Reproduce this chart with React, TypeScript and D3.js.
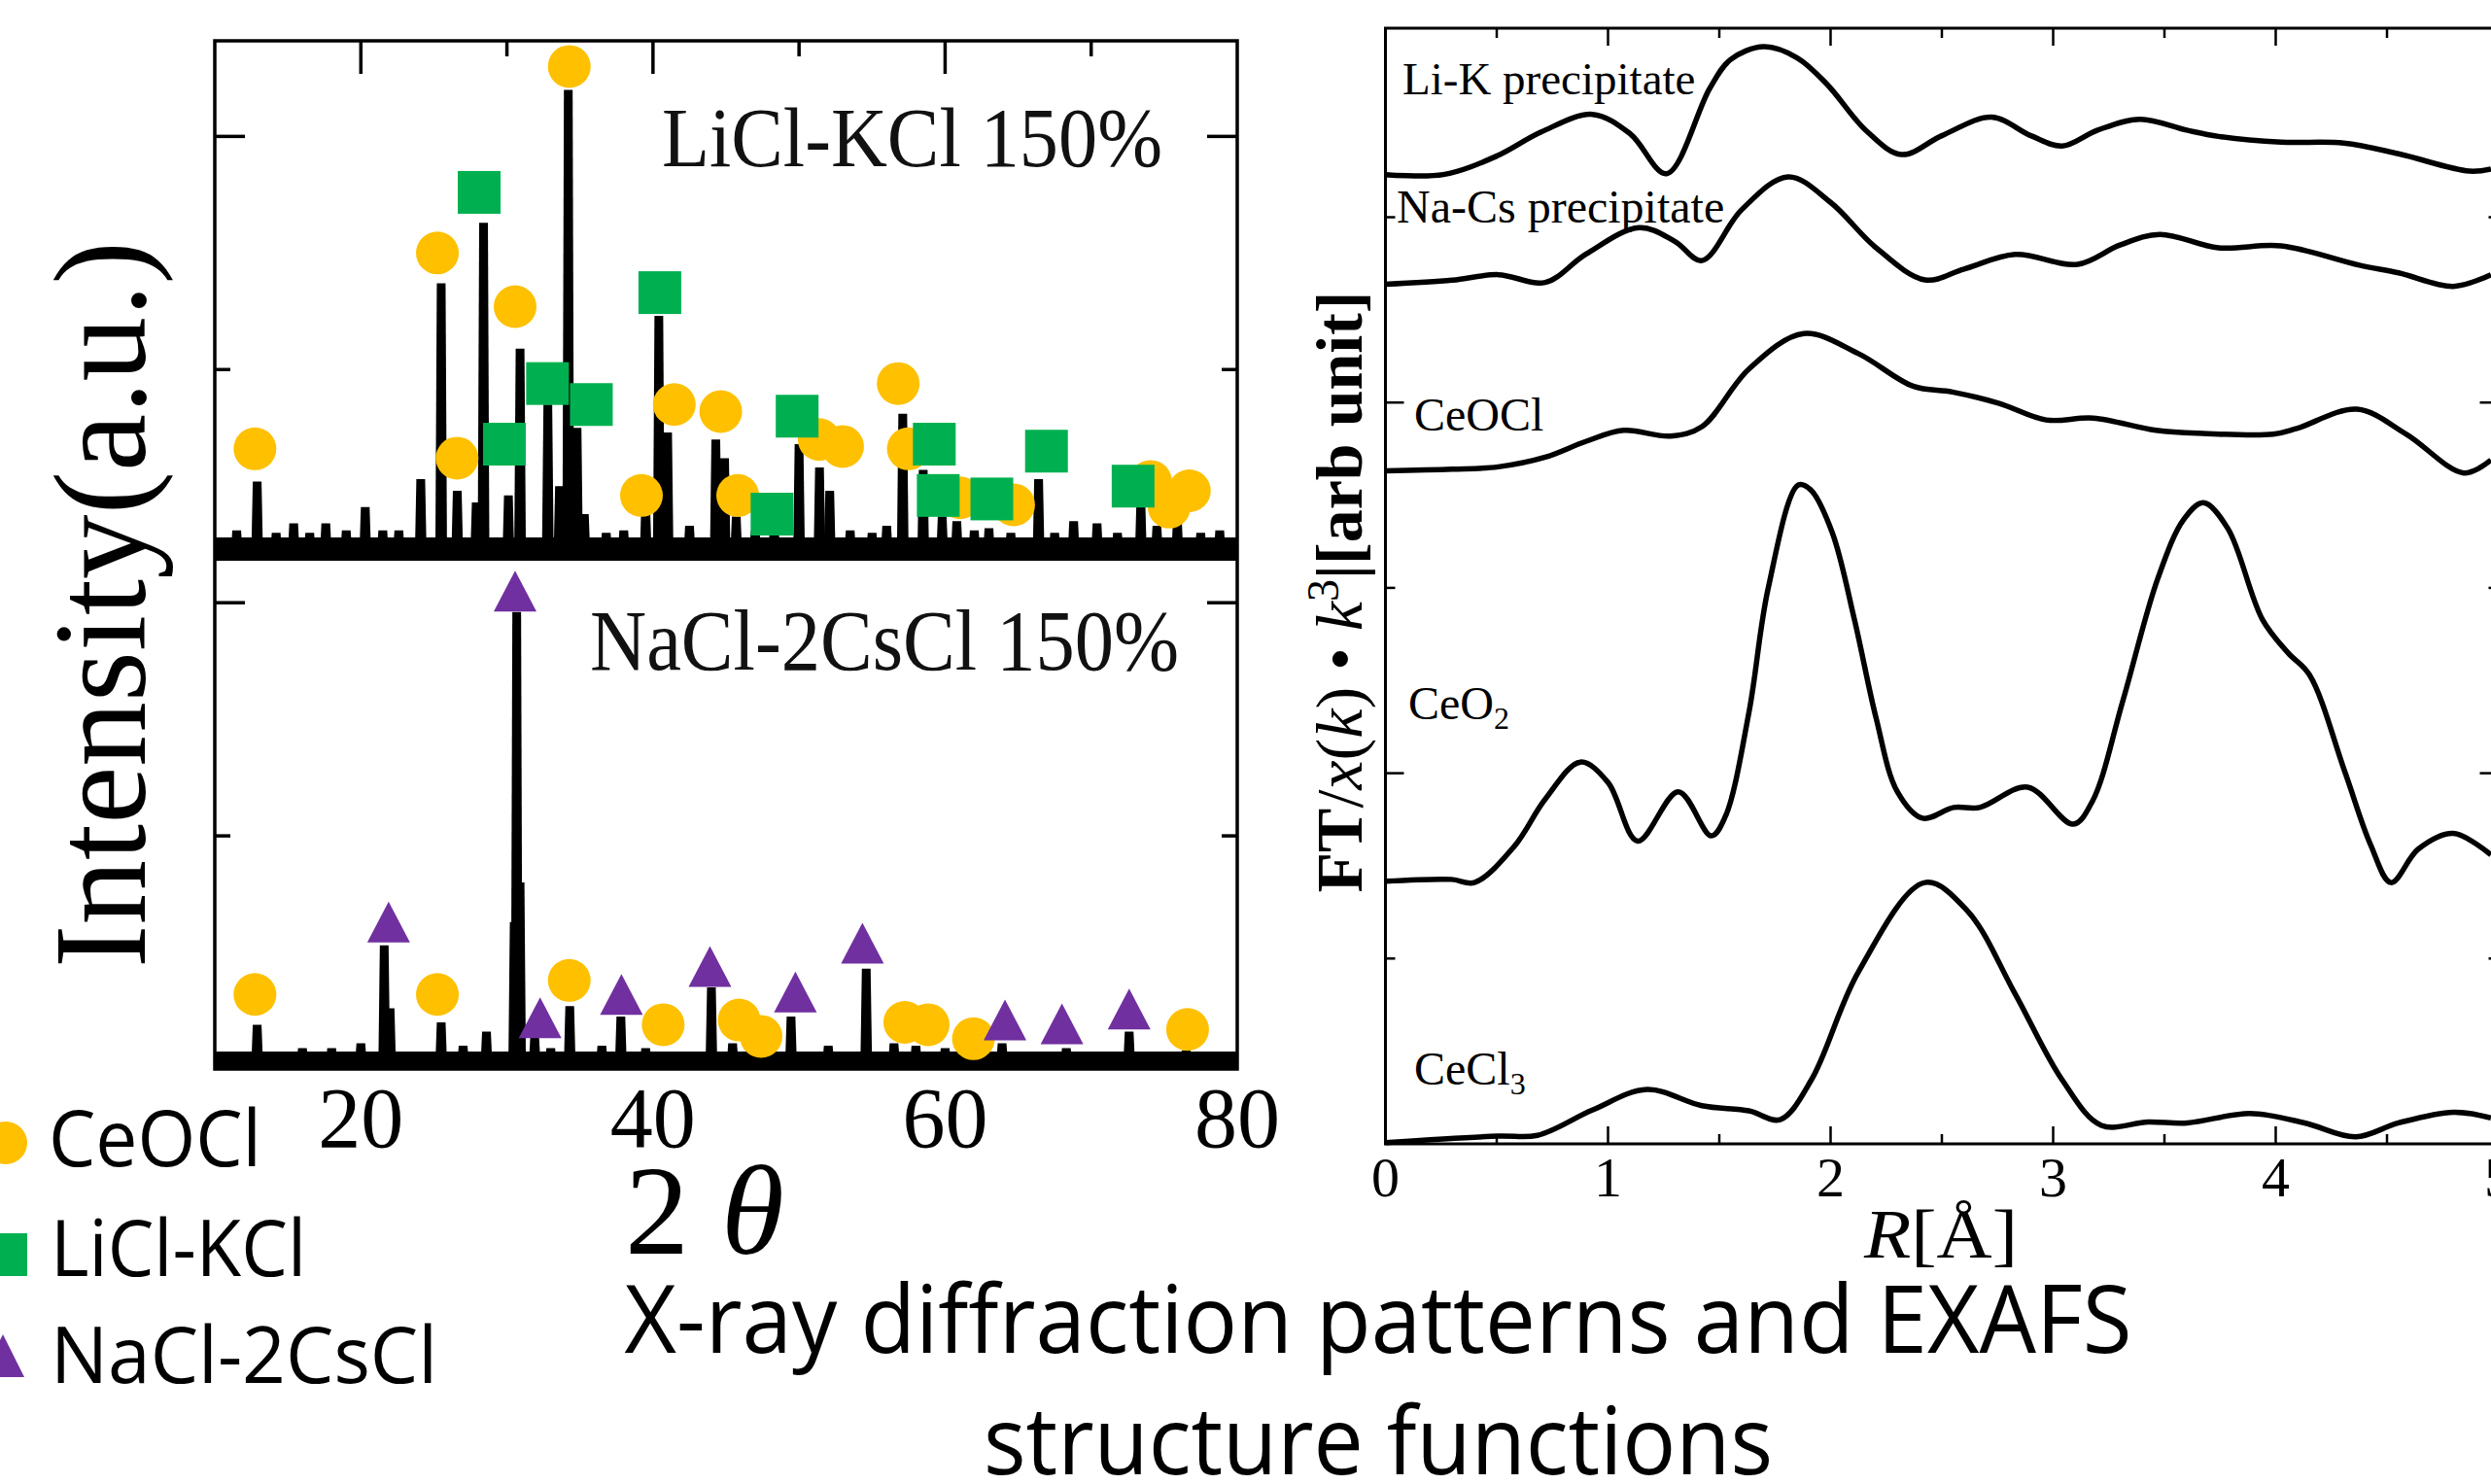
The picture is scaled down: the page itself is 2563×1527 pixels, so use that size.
import React, { useEffect } from 'react';
import * as d3 from 'd3';

const W = 2563;
const H = 1527;

// ---------------- XRD (left) ----------------
const xrdTickMajor = [20, 40, 60];
const xrdTickMinor = [30, 50, 70];
const xrdTickLabels = [20, 40, 60, 80];
const xrdYTickMajor = [200, 400];
const xrdYTickMinor = [100, 300];
const upperBaseline = 223;
const lowerBaseline = 4;

// [2theta, intensity above baseline]
const upperPeaks: [number, number][] = [
  [11.5, 8], [12.9, 29], [14.2, 7], [15.4, 11], [16.5, 7], [17.6, 11], [19.0, 8], [20.3, 18], [21.5, 8],
  [22.6, 8], [24.1, 30], [25.5, 114], [26.6, 25], [27.9, 20], [28.4, 140], [30.1, 23], [30.9, 86],
  [32.8, 62], [33.6, 27], [34.2, 197], [34.8, 52], [35.3, 15], [36.8, 7], [38.0, 8], [39.5, 19],
  [40.4, 100], [41.0, 50], [42.5, 10], [44.3, 47], [44.9, 39], [45.7, 14], [47.0, 8], [48.3, 10],
  [50.0, 45], [51.4, 35], [52.1, 25], [53.5, 8], [55.0, 7], [56.0, 10], [57.1, 58], [58.5, 34],
  [59.8, 14], [60.8, 12], [62.0, 8], [63.0, 9], [64.5, 7], [66.4, 30], [67.5, 7], [68.8, 12],
  [70.4, 11], [71.8, 7], [73.4, 21], [74.5, 10], [75.9, 13], [77.5, 7], [78.8, 8],
];
const lowerPeaks: [number, number][] = [
  [12.9, 15], [16.0, 5], [18.0, 5], [20.0, 7], [21.6, 49], [22.0, 22], [25.5, 16], [27.0, 6],
  [28.6, 12], [30.5, 59], [30.67, 192], [30.9, 76], [31.9, 10], [33.0, 5], [34.3, 23], [36.5, 6],
  [37.8, 18.5], [39.5, 5], [44.0, 31], [45.45, 7], [47.0, 5], [49.45, 18.5], [52.0, 6], [54.6, 39],
  [56.5, 7], [58.0, 6], [60.0, 5], [63.9, 7], [68.3, 5], [72.6, 12], [76.5, 4],
];
// marker centres [2theta, intensity above baseline]
const upperCeOCl: [number, number][] = [
  [12.75, 43], [25.24, 127], [26.59, 39], [30.56, 104], [34.27, 207], [39.21, 23], [41.46, 62],
  [44.64, 59], [45.8, 23], [51.38, 47], [52.98, 44], [56.79, 71], [57.48, 43], [61.03, 22],
  [64.69, 19], [74.07, 29], [75.34, 18], [76.72, 25],
];
const upperLiClKCl: [number, number][] = [
  [28.1, 153], [29.83, 45], [32.78, 71], [35.78, 62], [40.47, 110], [48.15, 15], [49.87, 57],
  [59.26, 45], [59.53, 23], [63.2, 21.5], [66.94, 42], [72.87, 27],
];
const lowerCeOCl: [number, number][] = [
  [12.75, 28], [25.24, 28], [34.27, 34], [40.7, 15], [45.9, 17], [47.4, 10], [57.24, 16],
  [58.84, 15], [61.94, 9], [76.6, 13],
];
const lowerNaCl2CsCl: [number, number][] = [
  [21.9, 59], [30.56, 201], [32.27, 18], [37.84, 28], [43.9, 40], [49.75, 29], [54.34, 50],
  [64.1, 17], [68.0, 15.4], [72.6, 21.7],
];
const legendLabels = ['CeOCl', 'LiCl-KCl', 'NaCl-2CsCl'];
const COLOR_CEOCL = '#FFC000';
const COLOR_LICL = '#00B050';
const COLOR_NACL = '#7030A0';

// ---------------- EXAFS (right) ----------------
const exafsXTicks = [0, 1, 2, 3, 4, 5];
const exafsXMinor = [0.5, 1.5, 2.5, 3.5, 4.5];
const exafsYTicks = [1, 2, 3, 4, 5];

const liKPrecipitate: [number, number][] = [
  [0, 5.23], [0.26, 5.23], [0.5, 5.33], [0.7, 5.46], [0.93, 5.555], [1.1, 5.45], [1.263, 5.235],
  [1.457, 5.695], [1.55, 5.85], [1.7, 5.92], [1.85, 5.86], [1.985, 5.716], [2.16, 5.467],
  [2.319, 5.338], [2.5, 5.44], [2.723, 5.54], [2.9, 5.44], [3.04, 5.384], [3.2, 5.47],
  [3.391, 5.529], [3.6, 5.47], [3.743, 5.436], [4.024, 5.405], [4.306, 5.4], [4.552, 5.342],
  [4.869, 5.249], [4.967, 5.26],
];
const naCsPrecipitate: [number, number][] = [
  [0, 4.638], [0.3, 4.66], [0.507, 4.69], [0.718, 4.648], [0.9, 4.8], [1.14, 4.944], [1.3, 4.87],
  [1.422, 4.766], [1.6, 5.04], [1.809, 5.218], [2.0, 5.08], [2.2, 4.84], [2.424, 4.662],
  [2.6, 4.72], [2.829, 4.799], [3.11, 4.746], [3.3, 4.85], [3.479, 4.907], [3.743, 4.835],
  [4.024, 4.845], [4.376, 4.741], [4.552, 4.7], [4.798, 4.627], [4.967, 4.69],
];
const ceOClCurve: [number, number][] = [
  [0, 3.632], [0.3, 3.64], [0.507, 3.653], [0.718, 3.705], [0.9, 3.79], [1.07, 3.85],
  [1.281, 3.819], [1.422, 3.87], [1.633, 4.181], [1.879, 4.372], [2.125, 4.264], [2.371, 4.088],
  [2.547, 4.057], [2.758, 3.995], [2.969, 3.906], [3.18, 3.916], [3.462, 3.85], [3.673, 3.833],
  [3.989, 3.829], [4.095, 3.86], [4.365, 3.964], [4.587, 3.829], [4.845, 3.62], [4.967, 3.69],
];
const ceO2Curve: [number, number][] = [
  [0, 1.417], [0.296, 1.427], [0.4, 1.41], [0.578, 1.604], [0.718, 1.86], [0.876, 2.06],
  [1.0, 1.95], [1.133, 1.634], [1.316, 1.9], [1.464, 1.662], [1.527, 1.766], [1.633, 2.327],
  [1.72, 3.0], [1.855, 3.555], [1.91, 3.53], [2.007, 3.3], [2.107, 2.83], [2.204, 2.3],
  [2.3, 1.9], [2.413, 1.757], [2.553, 1.815], [2.67, 1.815], [2.885, 1.925], [3.09, 1.725],
  [3.177, 1.85], [3.313, 2.39], [3.47, 3.05], [3.587, 3.37], [3.675, 3.46], [3.785, 3.32],
  [3.94, 2.83], [4.055, 2.65], [4.152, 2.53], [4.31, 2.01], [4.426, 1.615], [4.518, 1.41],
  [4.64, 1.59], [4.797, 1.675], [4.967, 1.56],
];
const ceCl3Curve: [number, number][] = [
  [0, 0.007], [0.507, 0.042], [0.683, 0.046], [0.929, 0.182], [1.175, 0.294], [1.422, 0.206],
  [1.633, 0.178], [1.773, 0.131], [1.914, 0.346], [2.125, 0.928], [2.424, 1.41], [2.617, 1.254],
  [2.829, 0.81], [3.04, 0.346], [3.216, 0.1], [3.427, 0.118], [3.603, 0.113], [3.884, 0.164],
  [4.13, 0.113], [4.359, 0.038], [4.552, 0.113], [4.798, 0.171], [4.967, 0.14],
];

const serif = '"Liberation Serif", "Times New Roman", serif';
const sans = '"Open Sans", "Noto Sans", sans-serif';

export default function App() {
  useEffect(() => {
    document.body.style.margin = '0';
    document.body.style.overflow = 'hidden';
  }, []);

  const xX = d3.scaleLinear().domain([10, 80]).range([221, 1273]);
  const xY = d3.scaleLinear().domain([0, 441]).range([1100, 42]);
  const eX = d3.scaleLinear().domain([0, 5]).range([1425.5, 2570.5]);
  const eY = d3.scaleLinear().domain([0, 6.02]).range([1177, 29]);

  const curve = d3
    .line<[number, number]>()
    .x((d) => eX(d[0]))
    .y((d) => eY(d[1]))
    .curve(d3.curveCatmullRom.alpha(0.5));

  const peakPath = (p: [number, number], base: number) => {
    const x = xX(p[0]);
    const y0 = xY(base);
    const y1 = xY(base + p[1]);
    return `M${x - 6},${y0 + 4}L${x - 4.5},${y1}L${x + 4.5},${y1}L${x + 6},${y0 + 4}Z`;
  };

  const circles = (data: [number, number][], base: number, key: string) =>
    data.map((d, i) => (
      <circle key={key + i} cx={xX(d[0])} cy={xY(base + d[1])} r={22} fill={COLOR_CEOCL} />
    ));
  const squares = (data: [number, number][], base: number, key: string) =>
    data.map((d, i) => (
      <rect key={key + i} x={xX(d[0]) - 22} y={xY(base + d[1]) - 22} width={44} height={44} fill={COLOR_LICL} />
    ));
  const triangles = (data: [number, number][], base: number, key: string) =>
    data.map((d, i) => {
      const cx = xX(d[0]);
      const cy = xY(base + d[1]);
      return <path key={key + i} d={`M${cx},${cy - 21}L${cx + 22},${cy + 21}L${cx - 22},${cy + 21}Z`} fill={COLOR_NACL} />;
    });

  const exafsCurves = [liKPrecipitate, naCsPrecipitate, ceOClCurve, ceO2Curve, ceCl3Curve];

  return (
    <svg
      width={W}
      height={H}
      viewBox={`0 0 ${W} ${H}`}
      style={{ position: 'absolute', left: 0, top: 0, background: '#fff' }}
    >
      <rect x={0} y={0} width={W} height={H} fill="#fff" />

      {/* ================= XRD ================= */}
      <line x1={xX(10)} x2={xX(80)} y1={xY(upperBaseline)} y2={xY(upperBaseline)} stroke="#000" strokeWidth={24} />
      <line x1={xX(10)} x2={xX(80)} y1={xY(lowerBaseline)} y2={xY(lowerBaseline)} stroke="#000" strokeWidth={17} />
      {upperPeaks.map((p, i) => (
        <path key={'up' + i} d={peakPath(p, upperBaseline)} fill="#000" />
      ))}
      {lowerPeaks.map((p, i) => (
        <path key={'lp' + i} d={peakPath(p, lowerBaseline)} fill="#000" />
      ))}
      <rect x={xX(10)} y={xY(441)} width={xX(80) - xX(10)} height={xY(0) - xY(441)} fill="none" stroke="#000" strokeWidth={3.5} />
      {xrdTickMajor.map((t) => (
        <line key={'tM' + t} x1={xX(t)} x2={xX(t)} y1={xY(441)} y2={xY(441) + 34} stroke="#000" strokeWidth={3.5} />
      ))}
      {xrdTickMinor.map((t) => (
        <line key={'tm' + t} x1={xX(t)} x2={xX(t)} y1={xY(441)} y2={xY(441) + 16} stroke="#000" strokeWidth={3.5} />
      ))}
      {xrdYTickMajor.map((t) => (
        <g key={'yM' + t}>
          <line x1={xX(10)} x2={xX(10) + 31} y1={xY(t)} y2={xY(t)} stroke="#000" strokeWidth={3.5} />
          <line x1={xX(80)} x2={xX(80) - 31} y1={xY(t)} y2={xY(t)} stroke="#000" strokeWidth={3.5} />
        </g>
      ))}
      {xrdYTickMinor.map((t) => (
        <g key={'ym' + t}>
          <line x1={xX(10)} x2={xX(10) + 16} y1={xY(t)} y2={xY(t)} stroke="#000" strokeWidth={3.5} />
          <line x1={xX(80)} x2={xX(80) - 16} y1={xY(t)} y2={xY(t)} stroke="#000" strokeWidth={3.5} />
        </g>
      ))}
      {circles(upperCeOCl, upperBaseline, 'uc')}
      {squares(upperLiClKCl, upperBaseline, 'us')}
      {circles(lowerCeOCl, lowerBaseline, 'lc')}
      {triangles(lowerNaCl2CsCl, lowerBaseline, 'lt')}

      <text x={681} y={171} fontFamily={serif} fontSize={86} textLength={515} lengthAdjust="spacingAndGlyphs" fill="#111">
        LiCl-KCl 150%
      </text>
      <text x={607} y={689} fontFamily={serif} fontSize={88} textLength={606} lengthAdjust="spacingAndGlyphs" fill="#111">
        NaCl-2CsCl 150%
      </text>

      {xrdTickLabels.map((t) => (
        <text key={'xl' + t} x={xX(t)} y={1180} textAnchor="middle" fontFamily={serif} fontSize={88} fill="#000">
          {t}
        </text>
      ))}
      <text x={643} y={1290} fontFamily={serif} fontSize={132} fill="#000">
        2 <tspan fontStyle="italic">θ</tspan>
      </text>
      <text
        transform="translate(149,622) rotate(-90)"
        textAnchor="middle"
        fontFamily={serif}
        fontSize={135}
        textLength={748}
        lengthAdjust="spacingAndGlyphs"
        fill="#000"
      >
        Intensity(a.u.)
      </text>

      {/* legend */}
      <circle cx={6} cy={1176} r={22} fill={COLOR_CEOCL} />
      <rect x={-16} y={1269} width={44} height={44} fill={COLOR_LICL} />
      <path d="M3,1373L25,1417L-19,1417Z" fill={COLOR_NACL} />
      <text x={50} y={1200} fontFamily={sans} fontSize={81} textLength={219} lengthAdjust="spacingAndGlyphs">
        {legendLabels[0]}
      </text>
      <text x={52} y={1313} fontFamily={sans} fontSize={81} textLength={263} lengthAdjust="spacingAndGlyphs">
        {legendLabels[1]}
      </text>
      <text x={52} y={1423} fontFamily={sans} fontSize={81} textLength={398} lengthAdjust="spacingAndGlyphs">
        {legendLabels[2]}
      </text>

      {/* ================= EXAFS ================= */}
      <rect x={eX(0)} y={eY(6.02)} width={eX(5) - eX(0)} height={eY(0) - eY(6.02)} fill="none" stroke="#000" strokeWidth={3} />
      {exafsXTicks.map((t) => (
        <g key={'ex' + t}>
          <line x1={eX(t)} x2={eX(t)} y1={eY(0)} y2={eY(0) - 18} stroke="#000" strokeWidth={2.5} />
          <line x1={eX(t)} x2={eX(t)} y1={eY(6.02)} y2={eY(6.02) + 18} stroke="#000" strokeWidth={2.5} />
          <text x={eX(t)} y={1231} textAnchor="middle" fontFamily={serif} fontSize={58} fill="#000">
            {t}
          </text>
        </g>
      ))}
      {exafsXMinor.map((t) => (
        <g key={'exm' + t}>
          <line x1={eX(t)} x2={eX(t)} y1={eY(0)} y2={eY(0) - 10} stroke="#000" strokeWidth={2.5} />
          <line x1={eX(t)} x2={eX(t)} y1={eY(6.02)} y2={eY(6.02) + 10} stroke="#000" strokeWidth={2.5} />
        </g>
      ))}
      {exafsYTicks.map((t) => {
        const len = t % 2 === 0 ? 19 : 10;
        return (
          <g key={'ey' + t}>
            <line x1={eX(0)} x2={eX(0) + len} y1={eY(t)} y2={eY(t)} stroke="#000" strokeWidth={2.5} />
            <line x1={eX(5)} x2={eX(5) - len} y1={eY(t)} y2={eY(t)} stroke="#000" strokeWidth={2.5} />
          </g>
        );
      })}
      {exafsCurves.map((c, i) => (
        <path key={'ec' + i} d={curve(c) || ''} fill="none" stroke="#000" strokeWidth={5.5} strokeLinejoin="round" />
      ))}

      <text x={1443} y={97} fontFamily={serif} fontSize={47} fill="#000">Li-K precipitate</text>
      <text x={1437} y={229} fontFamily={serif} fontSize={48} fill="#000">Na-Cs precipitate</text>
      <text x={1455} y={443} fontFamily={serif} fontSize={48} fill="#000">CeOCl</text>
      <text x={1449} y={740} fontFamily={serif} fontSize={48} fill="#000">
        CeO<tspan dy={10} fontSize={32}>2</tspan>
      </text>
      <text x={1455} y={1116} fontFamily={serif} fontSize={48} fill="#000">
        CeCl<tspan dy={10} fontSize={32}>3</tspan>
      </text>

      <text x={1918} y={1294} fontFamily={serif} fontSize={72} textLength={158} lengthAdjust="spacingAndGlyphs" fill="#000">
        <tspan fontStyle="italic">R</tspan>[Å]
      </text>

      <text transform="translate(1401,609) rotate(-90)" textAnchor="middle" fontFamily={serif} fontSize={68} fill="#000">
        <tspan fontWeight="bold">FT</tspan>/<tspan fontStyle="italic">x</tspan>(<tspan fontStyle="italic">k</tspan>) • <tspan fontStyle="italic">k</tspan>
        <tspan dy={-24} fontSize={46}>3</tspan>
        <tspan dy={24} fontWeight="bold">|[arb unit]</tspan>
      </text>

      {/* ================= Caption ================= */}
      <text x={1418} y={1392} textAnchor="middle" fontFamily={sans} fontSize={97} textLength={1551} lengthAdjust="spacingAndGlyphs" fill="#000">
        X-ray diffraction patterns and EXAFS
      </text>
      <text x={1418} y={1517} textAnchor="middle" fontFamily={sans} fontSize={97} textLength={812} lengthAdjust="spacingAndGlyphs" fill="#000">
        structure functions
      </text>
    </svg>
  );
}
